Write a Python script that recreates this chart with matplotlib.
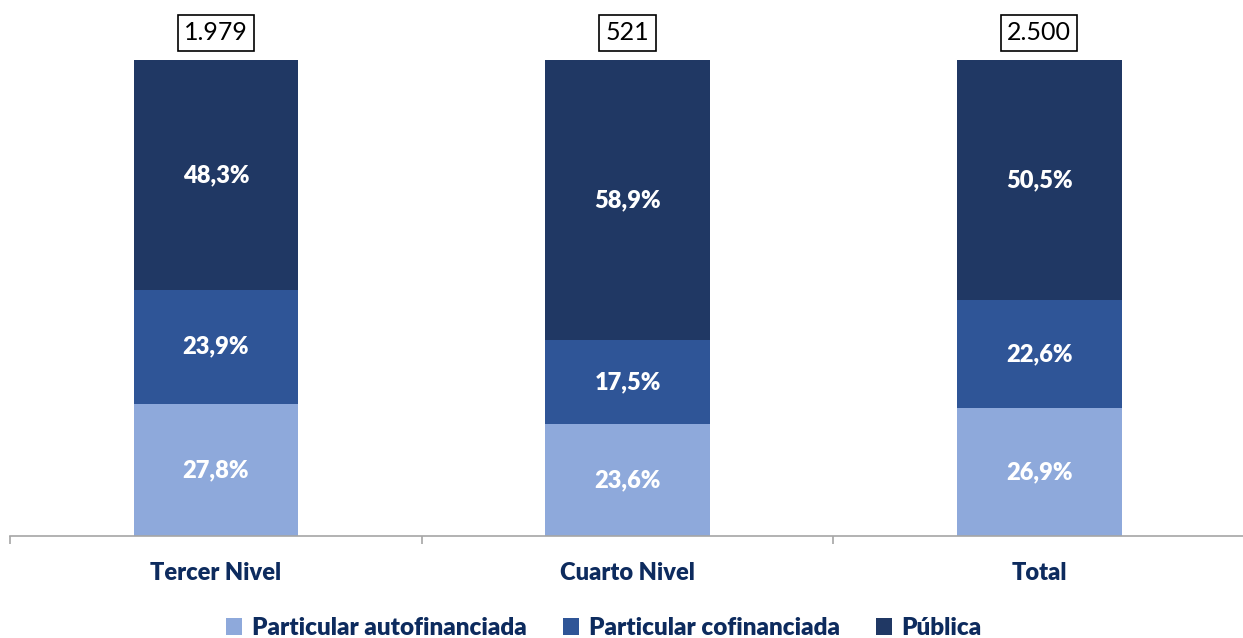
import numpy as np
from matplotlib import pyplot as plt
from matplotlib.patches import Patch

categorias = ['Tercer Nivel', 'Cuarto Nivel', 'Total']
totales = ['1.979', '521', '2.500']
series = ['Particular autofinanciada', 'Particular cofinanciada', 'Pública']
autofinanciada = [27.8, 23.6, 26.9]
cofinanciada = [23.9, 17.5, 22.6]
publica = [48.3, 58.9, 50.5]

colores = ['#8EA9DB', '#2F5597', '#203864']
azul_texto = '#0D2B5E'

plt.rcParams['font.family'] = ['Lato', 'DejaVu Sans']

fig = plt.figure(figsize=(12.43, 6.38), dpi=100)
ax = fig.add_axes([10 / 1243, 102 / 638, 1235 / 1243, 476 / 638])

x = np.arange(len(categorias))
base = np.zeros(len(categorias))
for valores, color, nombre in zip([autofinanciada, cofinanciada, publica], colores, series):
    barras = ax.bar(x, valores, bottom=base, width=0.4, color=color, label=nombre)
    for xi, b, v in zip(x, base, valores):
        ax.text(xi, b + v / 2, f'{v:.1f}%'.replace('.', ','), ha='center', va='center',
                color='white', fontsize=17, fontweight='heavy')
    base = base + np.array(valores)

for xi, t in zip(x, totales):
    ax.text(xi, 100 + 27 / 4.76, t, ha='center', va='center', fontsize=18, color='black',
            bbox=dict(boxstyle='square,pad=0.25', facecolor='white', edgecolor='black', linewidth=1.2),
            clip_on=False)

ax.set_xlim(-0.5, 2.5)
ax.set_ylim(0, 100)
for lado in ['top', 'right', 'left']:
    ax.spines[lado].set_visible(False)
ax.spines['bottom'].set_color('#A6A6A6')
ax.spines['bottom'].set_linewidth(1.2)
ax.set_yticks([])
ax.set_xticks([-0.5, 0.5, 1.5, 2.5])
ax.set_xticklabels([])
ax.set_xticks(x, minor=True)
ax.set_xticklabels(categorias, minor=True, fontsize=17, fontweight='heavy', color=azul_texto)
ax.tick_params(axis='x', which='major', length=6, color='#A6A6A6', width=1.2)
ax.tick_params(axis='x', which='minor', length=0, pad=19)

handles = [Patch(facecolor=c, label=s) for c, s in zip(colores, series)]
leg = fig.legend(handles=handles, loc='center', bbox_to_anchor=(604 / 1243, 10 / 638), ncol=3,
                 frameon=False, fontsize=17.5, handlelength=0.65, handleheight=0.65,
                 handletextpad=0.4, columnspacing=1.5)
for t in leg.get_texts():
    t.set_fontweight('heavy')
    t.set_color(azul_texto)

fig.savefig('out.png', dpi=100)
